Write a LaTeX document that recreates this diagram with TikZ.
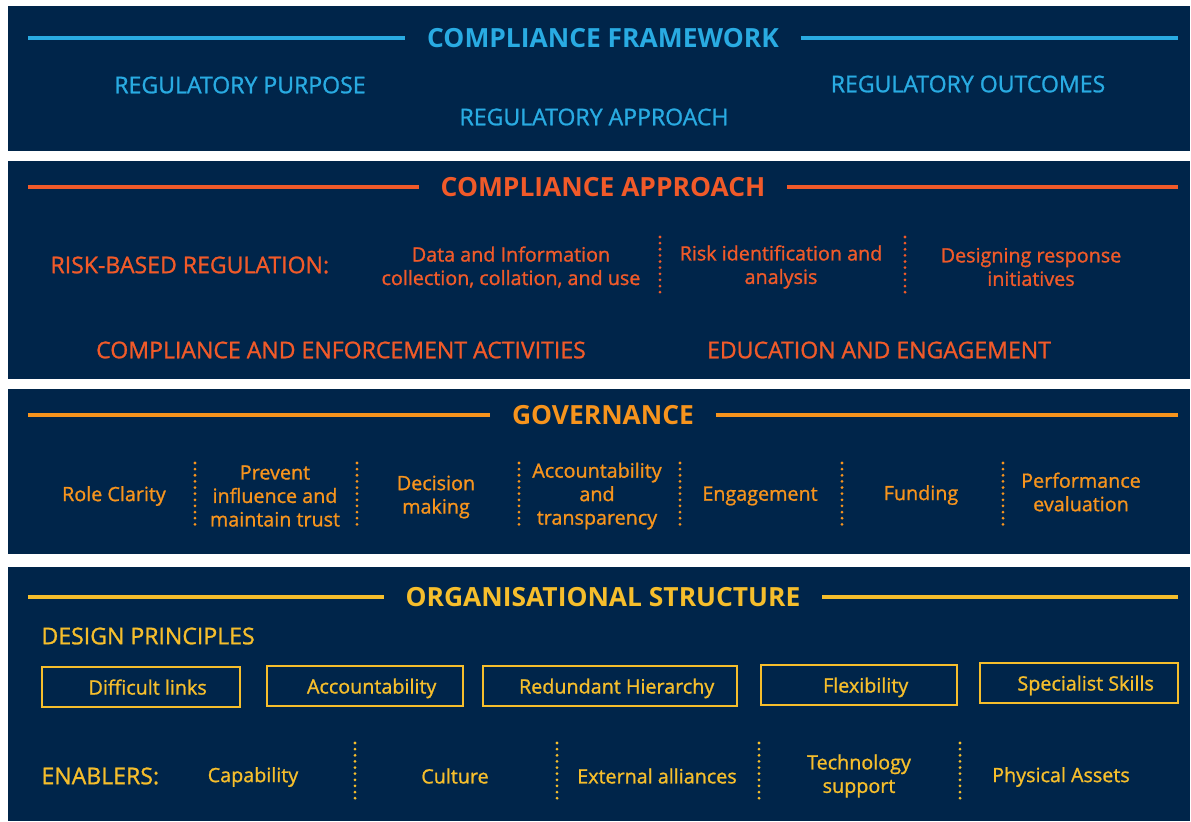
\documentclass[tikz,border=0pt]{standalone}
\usepackage{fontspec}
\setmainfont{Open Sans}
\newfontfamily\semifont{Open Sans}[FakeBold=1.1]
\definecolor{navy}{HTML}{00254A}
\definecolor{fwc}{HTML}{29ABE2}
\definecolor{apc}{HTML}{F15A29}
\definecolor{gvc}{HTML}{F7941D}
\definecolor{orc}{HTML}{F6BE2C}

\tikzset{every picture/.style={line width=0.75pt}}
\tikzset{
  panel/.style={fill=navy},
  ttl/.style={font=\bfseries\fontsize{19.8}{22}\selectfont, inner xsep=16pt, inner ysep=0pt},
  rule/.style={line width=2.6pt},
  head/.style={font=\semifont\fontsize{17.3}{20}\selectfont, inner sep=0pt},
  item/.style={font=\semifont\fontsize{14.8}{17.6}\selectfont, align=center, inner sep=0pt},
  sep/.style={line width=2.3pt, line cap=round, dash pattern=on 0pt off 4.6pt},
  pbox/.style={draw, line width=1.7pt, minimum height=30pt, font=\semifont\fontsize{14.8}{17.6}\selectfont,
    inner sep=0pt, text depth=0pt, execute at begin node=\hspace*{10pt}}
}

\begin{document}
\begin{tikzpicture}[x=0.75pt,y=0.75pt,yscale=-1,xscale=1]
\useasboundingbox (0,0) rectangle (1191,821);
\fill[white] (0,0) rectangle (1191,821);

%Panel: compliance framework
\fill[panel] (8,6) rectangle (1190,151);
\node[ttl, text=fwc] (fwttl) at (603,38) {COMPLIANCE FRAMEWORK};
\coordinate (fwl) at (28,38);
\coordinate (fwr) at (1178,38);
\draw[rule, fwc] (fwl) -- (fwttl.west);
\draw[rule, fwc] (fwttl.east) -- (fwr);
% Text Node
\node[head, text=fwc] (purpose) at (240,85) {REGULATORY PURPOSE};
% Text Node
\node[head, text=fwc] (approach) at (594,117) {REGULATORY APPROACH};
% Text Node
\node[head, text=fwc] (outcomes) at (968,84) {REGULATORY OUTCOMES};

%Panel: compliance approach
\fill[panel] (8,161) rectangle (1190,379);
\node[ttl, text=apc] (apttl) at (603,187) {COMPLIANCE APPROACH};
\coordinate (apl) at (28,187);
\coordinate (apr) at (1178,187);
\draw[rule, apc] (apl) -- (apttl.west);
\draw[rule, apc] (apttl.east) -- (apr);
% Text Node
\node[head, text=apc, anchor=west] (riskreg) at (50,265) {RISK-BASED REGULATION:};
% Text Node
\node[item, text=apc] (datainfo) at (511,267) {Data and Information\\collection, collation, and use};
% Text Node
\node[item, text=apc] (riskid) at (781,267) {Risk identification and\\analysis};
% Text Node
\node[item, text=apc] (respond) at (1031,267) {Designing response\\initiatives};
%Dotted separators
\draw[sep, apc] (660,237) -- (660,297);
\draw[sep, apc] (905,237) -- (905,297);
% Text Node
\node[head, text=apc] (enforce) at (341,350) {COMPLIANCE AND ENFORCEMENT ACTIVITIES};
% Text Node
\node[head, text=apc] (educate) at (879,350) {EDUCATION AND ENGAGEMENT};

%Panel: governance
\fill[panel] (8,389) rectangle (1190,554);
\node[ttl, text=gvc] (gvttl) at (603,415) {GOVERNANCE};
\coordinate (gvl) at (28,415);
\coordinate (gvr) at (1178,415);
\draw[rule, gvc] (gvl) -- (gvttl.west);
\draw[rule, gvc] (gvttl.east) -- (gvr);
% Text Node
\node[item, text=gvc] (role) at (114,496) {Role Clarity};
% Text Node
\node[item, text=gvc] (prevent) at (275,496) {Prevent\\influence and\\maintain trust};
% Text Node
\node[item, text=gvc] (decision) at (436,497) {Decision\\making};
% Text Node
\node[item, text=gvc] (account) at (597,496) {Accountability\\and\\transparency};
% Text Node
\node[item, text=gvc] (engage) at (760,496) {Engagement};
% Text Node
\node[item, text=gvc] (funding) at (921,495) {Funding};
% Text Node
\node[item, text=gvc] (perform) at (1081,492) {Performance\\evaluation};
%Dotted separators
\foreach \sx in {195,357,519,680,842,1003}
  \draw[sep, gvc] (\sx,463) -- (\sx,525);

%Panel: organisational structure
\fill[panel] (8,567) rectangle (1190,821);
\node[ttl, text=orc] (orttl) at (603,597) {ORGANISATIONAL STRUCTURE};
\coordinate (orl) at (28,597);
\coordinate (orr) at (1178,597);
\draw[rule, orc] (orl) -- (orttl.west);
\draw[rule, orc] (orttl.east) -- (orr);
% Text Node
\node[head, text=orc, anchor=west] (design) at (41,636) {DESIGN PRINCIPLES};
%Shape: Rectangles
\node[pbox, orc, minimum width=148.5pt] (difficult) at (141,687) {Difficult links};
\node[pbox, orc, minimum width=147pt] (accbox) at (365,686) {Accountability};
\node[pbox, orc, minimum width=190pt] (redund) at (610,686) {Redundant Hierarchy};
\node[pbox, orc, minimum width=147pt] (flex) at (859,685) {Flexibility};
\node[pbox, orc, minimum width=148pt] (special) at (1079,683) {Specialist Skills};
% Text Node
\node[head, text=orc, anchor=west] (enablers) at (41,776) {ENABLERS:};
% Text Node
\node[item, text=orc] (capab) at (253,777) {Capability};
% Text Node
\node[item, text=orc] (culture) at (455,776) {Culture};
% Text Node
\node[item, text=orc] (external) at (657,776) {External alliances};
% Text Node
\node[item, text=orc] (tech) at (859,776) {Technology\\support};
% Text Node
\node[item, text=orc] (physical) at (1061,777) {Physical Assets};
%Dotted separators
\foreach \sx in {355,557,759,960}
  \draw[sep, orc] (\sx,743) -- (\sx,803);

\end{tikzpicture}
\end{document}
